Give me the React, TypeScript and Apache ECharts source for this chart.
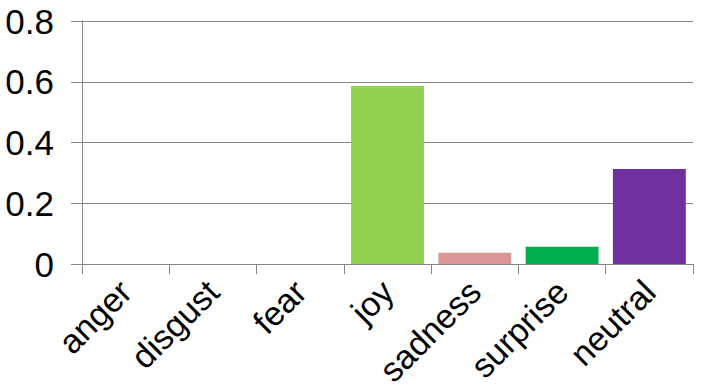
import React, { useEffect, useRef } from "react";
import * as echarts from "echarts";

const categories = ["anger", "disgust", "fear", "joy", "sadness", "surprise", "neutral"];
const values = [0, 0, 0, 0.586, 0.037, 0.057, 0.313];
const colors = ["#4472C4", "#ED7D31", "#A5A5A5", "#92D050", "#D99694", "#00B050", "#7030A0"];
const yTicks = { min: 0, max: 0.8, interval: 0.2 };

export default function App() {
  const ref = useRef<HTMLDivElement>(null);
  useEffect(() => {
    document.body.style.margin = "0";
    const chart = echarts.init(ref.current!, null, { renderer: "svg" });
    const axisColor = "#868686";
    chart.setOption({
      animation: false,
      backgroundColor: "#ffffff",
      grid: { left: 82, right: 12, top: 21, bottom: 120, containLabel: false, outerBoundsMode: "none" },
      xAxis: {
        type: "category",
        data: categories,
        axisLine: { lineStyle: { color: axisColor, width: 1 } },
        axisTick: { show: true, length: 10, lineStyle: { color: axisColor } },
        axisLabel: {
          rotate: 45,
          margin: 22,
          color: "#000",
          fontSize: 34,
          fontFamily: "Liberation Sans, Arial, sans-serif",
          interval: 0,
        },
      },
      yAxis: {
        type: "value",
        min: yTicks.min,
        max: yTicks.max,
        interval: yTicks.interval,
        axisLine: { show: true, lineStyle: { color: axisColor, width: 1 } },
        axisTick: { show: true, length: 11, lineStyle: { color: axisColor } },
        splitLine: { lineStyle: { color: axisColor, width: 1 } },
        axisLabel: {
          margin: 28,
          color: "#000",
          fontSize: 35,
          fontFamily: "Liberation Sans, Arial, sans-serif",
        },
      },
      series: [
        {
          type: "bar",
          barWidth: "83.5%",
          data: values.map((v, i) => ({ value: v, itemStyle: { color: colors[i] } })),
        },
      ],
    });
    return () => chart.dispose();
  }, []);
  return <div ref={ref} style={{ width: 705, height: 384 }} />;
}
